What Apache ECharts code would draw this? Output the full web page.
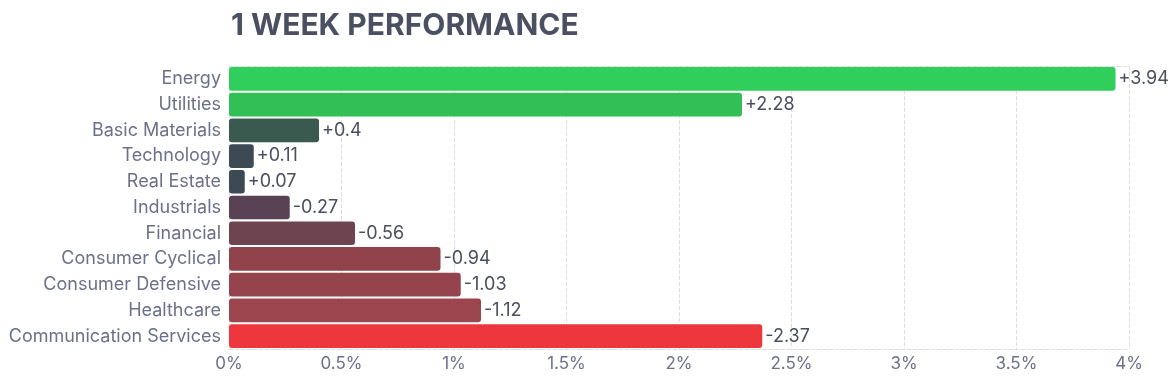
<!DOCTYPE html>
<html><head><meta charset="utf-8">
<script src="https://cdn.jsdelivr.net/npm/echarts@6/dist/echarts.min.js"></script>
<style>html,body{margin:0;padding:0;background:#fff}#c{width:1176px;height:379px}</style>
</head><body><div id="c"></div>
<script>
const categories = ["Energy","Utilities","Basic Materials","Technology","Real Estate","Industrials","Financial","Consumer Cyclical","Consumer Defensive","Healthcare","Communication Services"];
const values = [3.94, 2.28, 0.4, 0.11, 0.07, -0.27, -0.56, -0.94, -1.03, -1.12, -2.37];
const barColors = ["#30CF5B","#31BF56","#3B5A4F","#3D4A53","#3D4A53","#594253","#6E4450","#91434C","#95444D","#9B454E","#EE373C"];
const xTicks = [0,0.5,1,1.5,2,2.5,3,3.5,4];

const chart = echarts.init(document.getElementById('c'));
const font = 'Inter, "Noto Sans", sans-serif';
chart.setOption({
  animation:false,
  title:{text:'1 WEEK PERFORMANCE',left:226,top:6,textStyle:{fontFamily:font,fontSize:30,fontWeight:'bold',color:'#4A5061'}},
  grid:{left:229,right:47,top:66,bottom:30,containLabel:false},
  xAxis:[{type:'value',min:xTicks[0],max:xTicks[xTicks.length-1],interval:0.5,
    axisLabel:{formatter:v=>v+'%',color:'#6B7189',fontFamily:font,fontSize:17,margin:6},
    axisLine:{show:true,lineStyle:{color:'#DDDDDD',type:'dashed'}},axisTick:{show:false},
    splitLine:{show:true,lineStyle:{color:'#DDDDDD',type:'dashed'}}},
    {type:'value',position:'top',min:0,max:4,axisLabel:{show:false},axisTick:{show:false},splitLine:{show:false},
    axisLine:{show:true,lineStyle:{color:'#DDDDDD',type:'dashed'}}}],
  yAxis:{type:'category',data:categories,inverse:true,
    axisLabel:{color:'#6B7189',fontFamily:font,fontSize:18,margin:8},
    axisLine:{show:false},axisTick:{show:false},splitLine:{show:false}},
  series:[{type:'bar',barCategoryGap:'8%',
    data:values.map((v,i)=>({value:Math.abs(v),itemStyle:{color:barColors[i],borderRadius:3}})),
    label:{show:true,position:'right',distance:3,color:'#4A4F5E',fontFamily:font,fontSize:18,
      formatter:p=>{const v=values[p.dataIndex];return (v>0?'+':'')+v;}}}]
});
</script></body></html>
